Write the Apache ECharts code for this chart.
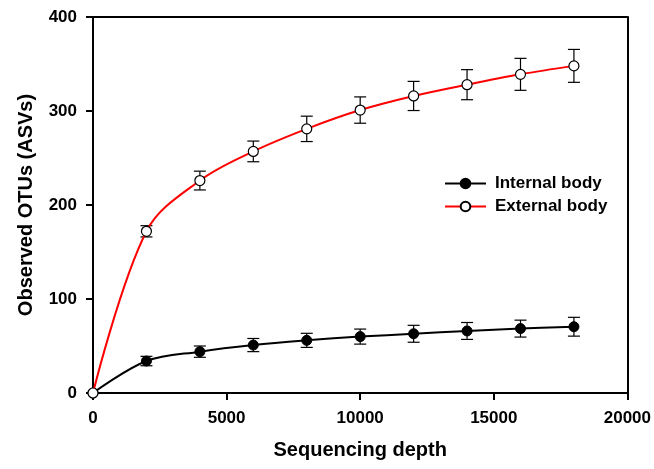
<!DOCTYPE html>
<html>
<head>
<meta charset="utf-8">
<script src="https://cdn.jsdelivr.net/npm/echarts@6/dist/echarts.min.js"></script>
<style>html,body{margin:0;padding:0;background:#fff;}#c{width:654px;height:469px;}</style>
</head>
<body>
<div id="c"></div>
<script>
const depth = [0, 2000, 4000, 6000, 8000, 10000, 12000, 14000, 16000, 18000];
const internalBody = [0, 34, 44, 51, 56, 60, 63, 66, 68.5, 70.5];
const internalErr = [0, 5, 6, 7, 7.5, 8, 9, 9, 9, 10];
const externalBody = [0, 172, 226, 257, 281, 301, 316, 328, 339, 348];
const externalErr = [0, 6, 10, 11, 13.5, 14, 15.5, 16, 17, 17.5];
const xTicks = [0, 5000, 10000, 15000, 20000];
const yTicks = [0, 100, 200, 300, 400];
const seriesNames = ['Internal body', 'External body'];

const FONT = 'Arial, "Liberation Sans", sans-serif';
const TICK_LEN = 7;

function pairs(xs, ys) { return xs.map((x, i) => [x, ys[i]]); }
function errData(xs, ys, es) {
  return xs.map((x, i) => [x, ys[i] - es[i], ys[i] + es[i]]).filter((d, i) => es[i] > 0);
}
function errRender(params, api) {
  const x = api.value(0);
  const lo = api.coord([x, api.value(1)]);
  const hi = api.coord([x, api.value(2)]);
  const w = 6;
  const st = { stroke: '#000', lineWidth: 1.2 };
  return {
    type: 'group',
    children: [
      { type: 'line', shape: { x1: lo[0], y1: lo[1], x2: hi[0], y2: hi[1] }, style: st },
      { type: 'line', shape: { x1: lo[0] - w, y1: lo[1], x2: lo[0] + w, y2: lo[1] }, style: st },
      { type: 'line', shape: { x1: hi[0] - w, y1: hi[1], x2: hi[0] + w, y2: hi[1] }, style: st }
    ]
  };
}
const frameAxis = {
  axisLine: { show: true, onZero: false, lineStyle: { color: '#000', width: 2 } },
  axisTick: { show: false }, axisLabel: { show: false }, splitLine: { show: false }
};

const chart = echarts.init(document.getElementById('c'), null, { renderer: 'canvas' });
chart.setOption({
  animation: false,
  backgroundColor: '#fff',
  textStyle: { fontFamily: FONT },
  grid: { left: 93, right: 26, top: 17, bottom: 76 },
  legend: {
    data: seriesNames,
    orient: 'vertical',
    left: 444, top: 175, padding: 0,
    itemWidth: 41, itemHeight: 12, itemGap: 6,
    textStyle: { fontFamily: FONT, fontWeight: 'bold', fontSize: 17, color: '#000', padding: [0, 0, 0, 4] }
  },
  xAxis: [{
    type: 'value', min: xTicks[0], max: xTicks[xTicks.length - 1], interval: 5000,
    name: 'Sequencing depth', nameLocation: 'middle', nameGap: 47,
    nameTextStyle: { fontFamily: FONT, fontWeight: 'bold', fontSize: 20, color: '#000' },
    axisLine: { show: true, onZero: false, lineStyle: { color: '#000', width: 2 } },
    axisTick: { show: true, length: TICK_LEN, lineStyle: { color: '#000', width: 2 } },
    axisLabel: { margin: 17, fontFamily: FONT, fontWeight: 'bold', fontSize: 17, color: '#000', formatter: v => String(v) },
    splitLine: { show: false }
  }, Object.assign({ type: 'value', position: 'top', min: xTicks[0], max: xTicks[xTicks.length - 1] }, frameAxis)],
  yAxis: [{
    type: 'value', min: yTicks[0], max: yTicks[yTicks.length - 1], interval: 100,
    name: 'Observed OTUs (ASVs)', nameLocation: 'middle', nameGap: 57,
    nameTextStyle: { fontFamily: FONT, fontWeight: 'bold', fontSize: 20, color: '#000' },
    axisLine: { show: true, onZero: false, lineStyle: { color: '#000', width: 2 } },
    axisTick: { show: true, length: TICK_LEN, lineStyle: { color: '#000', width: 2 } },
    axisLabel: { margin: 16, fontFamily: FONT, fontWeight: 'bold', fontSize: 17, color: '#000', formatter: v => String(v) },
    splitLine: { show: false }
  }, Object.assign({ type: 'value', position: 'right', min: yTicks[0], max: yTicks[yTicks.length - 1] }, frameAxis)],
  series: [
    {
      type: 'custom', name: 'errInternal', renderItem: errRender, z: 1,
      data: errData(depth, internalBody, internalErr), encode: { x: 0, y: [1, 2] }, silent: true
    },
    {
      type: 'custom', name: 'errExternal', renderItem: errRender, z: 1,
      data: errData(depth, externalBody, externalErr), encode: { x: 0, y: [1, 2] }, silent: true
    },
    {
      name: seriesNames[0], type: 'line', smooth: 0.35, z: 3,
      data: pairs(depth, internalBody),
      symbol: 'circle', symbolSize: 10, showAllSymbol: true,
      lineStyle: { color: '#000', width: 2 },
      itemStyle: { color: '#000', borderColor: '#000', borderWidth: 1 }
    },
    {
      name: seriesNames[1], type: 'line', smooth: 0.35, z: 4,
      data: pairs(depth, externalBody),
      symbol: 'circle', symbolSize: 10, showAllSymbol: true,
      lineStyle: { color: '#ff0000', width: 2 },
      itemStyle: { color: '#fff', borderColor: '#000', borderWidth: 1.2 }
    }
  ]
});
</script>
</body>
</html>
